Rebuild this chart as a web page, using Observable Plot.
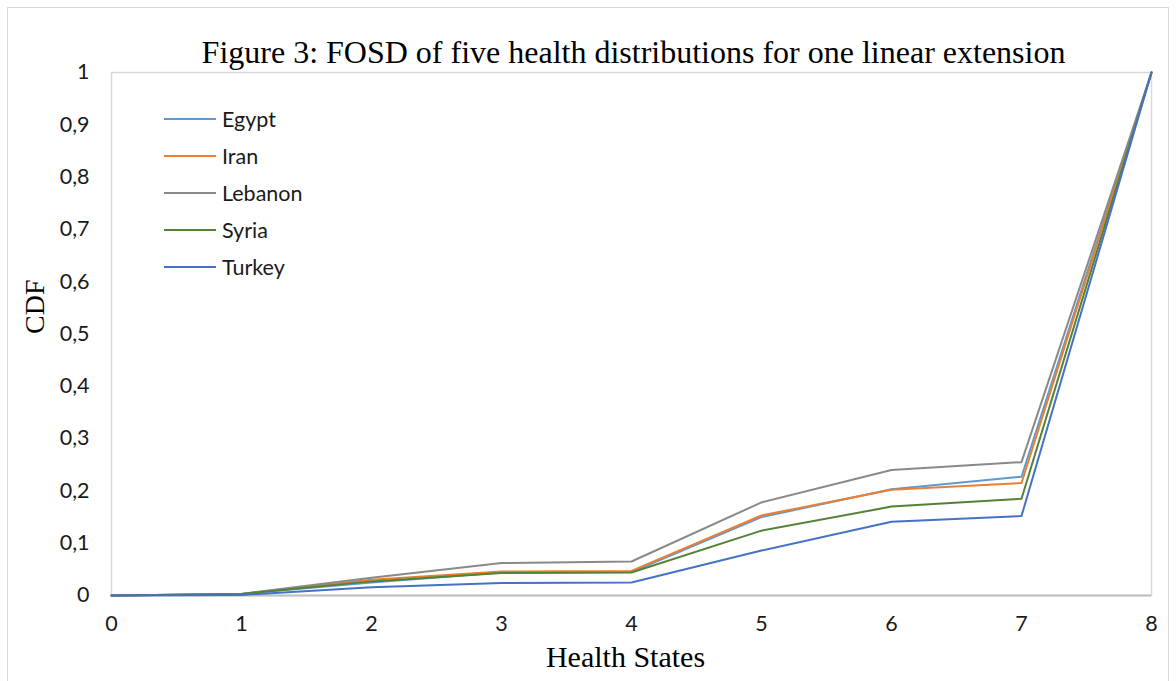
<!DOCTYPE html>
<html>
<head>
<meta charset="utf-8">
<script src="https://cdn.jsdelivr.net/npm/d3@7"></script>
<script src="https://cdn.jsdelivr.net/npm/@observablehq/plot@0.6"></script>
<style>
  html, body { margin: 0; padding: 0; background: #fff; }
  #wrap { position: relative; width: 1176px; height: 681px; overflow: hidden; }
  #wrap svg { display: block; }
  #border { position: absolute; left: 7px; top: 7px; width: 1162px; height: 700px; border: 1px solid #d9d9d9; box-sizing: border-box; pointer-events: none; }
  #legend { position: absolute; left: 164px; top: 101px; font-family: Lato, "Open Sans", sans-serif; font-size: 21.5px; color: #1a1a1a; }
  #legend .row { display: flex; align-items: center; height: 36.8px; }
  #legend .sw { width: 52px; height: 2px; margin-right: 6px; }
</style>
</head>
<body>
<div id="wrap"><div id="border"></div><div id="legend"></div></div>
<script>
const states = [0, 1, 2, 3, 4, 5, 6, 7, 8];
const countries = ["Egypt", "Iran", "Lebanon", "Syria", "Turkey"];
const colors = ["#5B9BD5", "#ED7D31", "#898989", "#548235", "#4472C4"];
const egypt   = [0, 0.003, 0.025, 0.044, 0.045, 0.150, 0.203, 0.227, 1];
const iran    = [0, 0.003, 0.030, 0.046, 0.047, 0.153, 0.202, 0.215, 1];
const lebanon = [0, 0.003, 0.034, 0.062, 0.065, 0.178, 0.240, 0.255, 1];
const syria   = [0, 0.003, 0.027, 0.043, 0.044, 0.124, 0.170, 0.185, 1];
const turkey  = [0, 0.001, 0.016, 0.024, 0.025, 0.086, 0.141, 0.152, 1];
const yTicks = [0, 0.1, 0.2, 0.3, 0.4, 0.5, 0.6, 0.7, 0.8, 0.9, 1];
const yTickLabels = ["0", "0,1", "0,2", "0,3", "0,4", "0,5", "0,6", "0,7", "0,8", "0,9", "1"];
const xTicks = [0, 1, 2, 3, 4, 5, 6, 7, 8];
const title = "Figure 3: FOSD of five health distributions for one linear extension";
const xLabel = "Health States";
const yLabel = "CDF";

const seriesValues = [egypt, iran, lebanon, syria, turkey];
const rows = [];
countries.forEach((c, i) => seriesValues[i].forEach((v, j) => rows.push({country: c, state: states[j], cdf: v})));

const serif = "'Liberation Serif', 'Times New Roman', serif";
const sans = "Lato, 'Open Sans', sans-serif";

const chart = Plot.plot({
  width: 1176,
  height: 681,
  marginLeft: 111,
  marginRight: 25,
  marginTop: 72,
  marginBottom: 86,
  style: {background: "transparent", overflow: "visible"},
  x: {domain: [0, 8], ticks: xTicks},
  y: {domain: [0, 1], ticks: yTicks},
  color: {domain: countries, range: colors},
  marks: [
    Plot.frame({stroke: "#d9d9d9", strokeWidth: 1.5}),
    Plot.ruleY([0], {stroke: "#bfbfbf", strokeWidth: 2}),
    Plot.axisX({ticks: xTicks, tickSize: 0, tickPadding: 20, label: null, fontSize: 21.5, fontFamily: sans, fill: "#1a1a1a"}),
    Plot.axisY({ticks: yTicks, tickSize: 0, tickPadding: 22, label: null, fontSize: 21.5, fontFamily: sans, fill: "#1a1a1a",
      tickFormat: d => yTickLabels[yTicks.indexOf(d)]}),
    Plot.line(rows, {x: "state", y: "cdf", z: "country", stroke: "country", strokeWidth: 2, curve: "linear"}),
    Plot.text([title], {frameAnchor: "top", dy: -32, dx: 2, fontSize: 32, fontFamily: serif, fill: "#000"}),
    Plot.text([xLabel], {frameAnchor: "bottom", dy: 71, dx: -6, fontSize: 30, fontFamily: serif, fill: "#000"}),
    Plot.text([yLabel], {frameAnchor: "left", dx: -76, rotate: -90, fontSize: 28, fontFamily: serif, fill: "#000"})
  ]
});
const wrap = document.getElementById("wrap");
wrap.insertBefore(chart, wrap.firstChild);

const legend = document.getElementById("legend");
countries.forEach((c, i) => {
  const row = document.createElement("div");
  row.className = "row";
  const sw = document.createElement("div");
  sw.className = "sw";
  sw.style.background = colors[i];
  const t = document.createElement("span");
  t.textContent = c;
  row.appendChild(sw);
  row.appendChild(t);
  legend.appendChild(row);
});
</script>
</body>
</html>
